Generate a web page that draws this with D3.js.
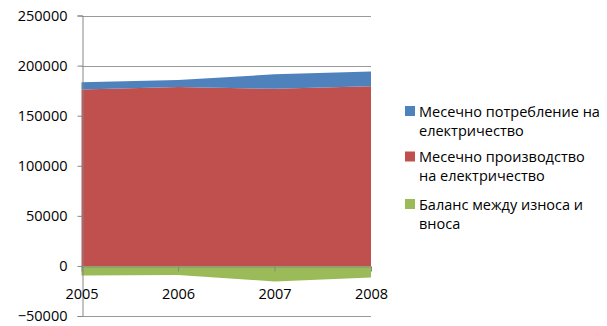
<!DOCTYPE html>
<html>
<head>
<meta charset="utf-8">
<script src="https://cdn.jsdelivr.net/npm/d3@7"></script>
<style>
  body { margin: 0; background: #fff; }
  text { font-family: "Open Sans", "Liberation Sans", sans-serif; fill: #000; }
</style>
</head>
<body>
<div id="chart"></div>
<script>
// chart values
const years = ["2005", "2006", "2007", "2008"];
const consumption = [7300, 7000, 14500, 14700];      // layer on top of production
const production = [176000, 178500, 176800, 179300];
const balance = [-9500, -9000, -15500, -11500];
const yTicks = [-50000, 0, 50000, 100000, 150000, 200000, 250000];

const seriesNames = {
  consumption: "Месечно потребление на|електричество",
  production: "Месечно производство|на електричество",
  balance: "Баланс между износа и|вноса"
};
const colors = { consumption: "#4F81BD", production: "#C0504D", balance: "#9BBB59" };

const width = 607, height = 326;

const svg = d3.select("#chart").append("svg")
  .attr("width", width)
  .attr("height", height);

const x = d3.scalePoint().domain(years).range([81.5, 371]);
const y = d3.scaleLinear().domain([-50000, 250000]).range([316, 15.5]);

const rows = years.map((yr, i) => ({
  year: yr,
  consumption: consumption[i],
  production: production[i],
  balance: balance[i]
}));

const stack = d3.stack()
  .keys(["balance", "production", "consumption"])
  .offset(d3.stackOffsetDiverging);
const layers = stack(rows);

// gridlines
svg.append("g")
  .selectAll("line")
  .data(yTicks)
  .enter().append("line")
  .attr("x1", x.range()[0])
  .attr("x2", x.range()[1])
  .attr("y1", d => Math.round(y(d)) + 0.5)
  .attr("y2", d => Math.round(y(d)) + 0.5)
  .attr("stroke", "#9a9a9a")
  .attr("stroke-width", 1);

const area = d3.area()
  .x(d => x(d.data.year))
  .y0(d => y(d[0]))
  .y1(d => y(d[1]));

svg.append("g")
  .selectAll("path")
  .data(layers)
  .enter().append("path")
  .attr("fill", d => colors[d.key])
  .attr("d", area);

// y axis
const yAxis = d3.axisLeft(y)
  .tickValues(yTicks)
  .tickSize(5)
  .tickPadding(10)
  .tickFormat(d3.format("d"));

const gy = svg.append("g")
  .attr("transform", "translate(" + (Math.round(x.range()[0]) + 0.5) + ",0)")
  .call(yAxis);
gy.select(".domain").attr("stroke", "#868686");
gy.selectAll(".tick line").attr("stroke", "#868686");
gy.selectAll(".tick text")
  .attr("font-size", "14.5px")
  .style("font-family", "'Open Sans', sans-serif");

// x axis at zero
const xAxis = d3.axisBottom(x)
  .tickSize(5)
  .tickPadding(17)
  .tickSizeOuter(0);

const gx = svg.append("g")
  .attr("transform", "translate(0," + (Math.round(y(0)) + 0.5) + ")")
  .call(xAxis);
gx.select(".domain").attr("stroke", "#868686");
gx.selectAll(".tick line").attr("stroke", "#868686");
gx.selectAll(".tick text")
  .attr("font-size", "14.5px")
  .style("font-family", "'Open Sans', sans-serif");

// legend
const legendKeys = ["consumption", "production", "balance"];
const legendTop = [116.5, 162, 209.5];

const legend = svg.append("g");
legendKeys.forEach((k, i) => {
  const g = legend.append("g");
  g.append("rect")
    .attr("x", 405)
    .attr("y", legendTop[i] - 10.5)
    .attr("width", 10)
    .attr("height", 10)
    .attr("fill", colors[k]);
  const lines = seriesNames[k].split("|");
  lines.forEach((ln, j) => {
    g.append("text")
      .attr("x", 419)
      .attr("y", legendTop[i] + j * 19)
      .attr("font-size", "14.5px")
      .text(ln);
  });
});
</script>
</body>
</html>
